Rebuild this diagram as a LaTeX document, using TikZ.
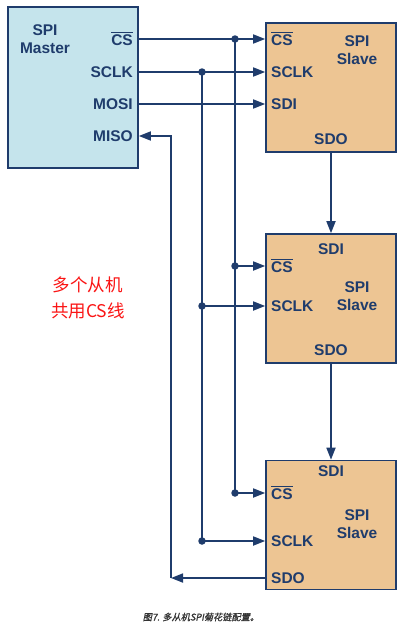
\documentclass[tikz,border=0pt]{standalone}
\usepackage{fontspec}
\setmainfont{Liberation Sans}
\newfontfamily\cjk{Noto Sans CJK SC}
\newfontfamily\capcjk[FakeSlant=0.2,FakeBold=1.2]{Noto Sans CJK SC}
\definecolor{spinavy}{RGB}{31,60,108}
\definecolor{spiblue}{RGB}{197,228,236}
\definecolor{spitan}{RGB}{237,197,147}
\definecolor{spired}{RGB}{250,20,20}
\newcommand\barsig[1]{\vbox{\hrule height 1.3pt\kern1.4pt\hbox{#1}}}
\usetikzlibrary{arrows.meta,positioning,calc}

\begin{document}
\begin{tikzpicture}[x=1pt,y=-1pt,
    every node/.style={font=\fontsize{15.5}{18}\selectfont\bfseries,text=spinavy},
    mbox/.style={draw=spinavy,line width=1.7pt,fill=spiblue,minimum width=130pt,minimum height=161pt},
    sbox/.style={draw=spinavy,line width=1.7pt,fill=spitan,minimum width=130pt,minimum height=129pt},
    port/.style={inner sep=0pt},
    wire/.style={spinavy,line width=1.7pt},
    sig/.style={wire,-{Triangle[length=12pt,width=9pt]}},
    tap/.style={circle,fill=spinavy,inner sep=0pt,minimum size=7.5pt}]

  \useasboundingbox (0,0) rectangle (412,632);

  %% Master
  \node[mbox] (master) at (73,87.5) {};
  \node[align=center,inner sep=0pt] (mtitle) at (45,39) {SPI\\Master};
  \node[port,anchor=east] (mcs)   at (133,39)  {\barsig{CS}};
  \node[port,anchor=east] (msclk) at (133,72)  {SCLK};
  \node[port,anchor=east] (mmosi) at (133,104) {MOSI};
  \node[port,anchor=east] (mmiso) at (133,136) {MISO};

  %% Slave 1
  \node[sbox] (slaveA) at (331,87.5) {};
  \node[align=center,inner sep=0pt] (sAtitle) at (357,50) {SPI\\Slave};
  \node[port,anchor=west] (sAcs)   at (271,39)  {\barsig{CS}};
  \node[port,anchor=west] (sAsclk) at (271,72)  {SCLK};
  \node[port,anchor=west] (sAsdi)  at (271,104) {SDI};
  \node[port] (sAsdo) at (331,139) {SDO};

  %% Slave 2
  \node[sbox] (slaveB) at (331,298.5) {};
  \node[align=center,inner sep=0pt] (sBtitle) at (357,296.5) {SPI\\Slave};
  \node[port] (sBsdi) at (331,249) {SDI};
  \node[port,anchor=west] (sBcs)   at (271,266) {\barsig{CS}};
  \node[port,anchor=west] (sBsclk) at (271,306) {SCLK};
  \node[port] (sBsdo) at (331,350) {SDO};

  %% Slave 3
  \node[sbox] (slaveC) at (331,525) {};
  \node[align=center,inner sep=0pt] (sCtitle) at (357,524.5) {SPI\\Slave};
  \node[port] (sCsdi) at (331,471) {SDI};
  \node[port,anchor=west] (sCcs)   at (271,493) {\barsig{CS}};
  \node[port,anchor=west] (sCsclk) at (271,541) {SCLK};
  \node[port,anchor=west] (sCsdo)  at (271,578) {SDO};

  %% shared CS and SCLK
  \coordinate (tcsA) at (235,0 |- mcs.east);
  \coordinate (tckA) at (202,0 |- msclk.east);
  \coordinate (tcsB) at (tcsA |- sBcs.west);
  \coordinate (tckB) at (tckA |- sBsclk.west);
  \coordinate (tcsC) at (tcsA |- sCcs.west);
  \coordinate (tckC) at (tckA |- sCsclk.west);
  \draw[sig] (mcs.east -| master.east) -- (sAcs.west -| slaveA.west);
  \draw[sig] (msclk.east -| master.east) -- (sAsclk.west -| slaveA.west);
  \draw[sig] (mmosi.east -| master.east) -- (sAsdi.west -| slaveA.west);
  \draw[wire] (tcsA) -- (tcsC);
  \draw[wire] (tckA) -- (tckC);
  \draw[sig] (tcsB) -- (sBcs.west -| slaveB.west);
  \draw[sig] (tckB) -- (sBsclk.west -| slaveB.west);
  \draw[sig] (tcsC) -- (sCcs.west -| slaveC.west);
  \draw[sig] (tckC) -- (sCsclk.west -| slaveC.west);
  \foreach \t in {tcsA,tcsB,tcsC,tckA,tckB,tckC}
    \node[tap] at (\t) {};

  %% daisy chain
  \draw[sig] (slaveA.south) -- (slaveB.north);
  \draw[sig] (slaveB.south) -- (slaveC.north);
  \coordinate (misoturn) at (171,0 |- sCsdo.west);
  \draw[sig] (sCsdo.west -| slaveC.west) -- (misoturn);
  \draw[sig] (misoturn) |- (mmiso.east -| master.east);

  %% notes
  \node[font=\cjk\fontsize{17.5}{26}\selectfont,text=spired,align=center] (note) at (88,298) {多个从机\\共用CS线};
  \node[font=\capcjk\fontsize{9.2}{10}\selectfont,text=black!80] (caption) at (201,617) {图7. 多从机SPI菊花链配置。};
\end{tikzpicture}
\end{document}
